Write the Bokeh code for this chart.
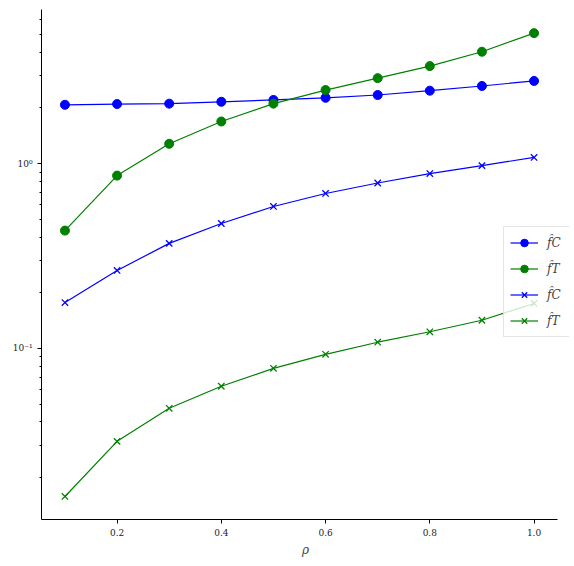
from bokeh.plotting import figure
from bokeh.models import Range1d, FixedTicker, Legend, LegendItem
from bokeh.embed import file_html
from bokeh.resources import INLINE

rho = [0.1, 0.2, 0.3, 0.4, 0.5, 0.6, 0.7, 0.8, 0.9, 1.0]
fC_circle = [2.08, 2.10, 2.11, 2.16, 2.21, 2.27, 2.35, 2.48, 2.63, 2.80]
fT_circle = [0.434, 0.861, 1.28, 1.69, 2.11, 2.50, 2.90, 3.37, 4.03, 5.08]
fC_cross = [0.177, 0.264, 0.370, 0.474, 0.586, 0.689, 0.785, 0.883, 0.975, 1.08]
fT_cross = [0.0158, 0.0314, 0.0474, 0.0624, 0.0780, 0.0929, 0.108, 0.123, 0.142, 0.175]
legend_labels = ["f\u0302C", "f\u0302T", "f\u0302C", "f\u0302T"]

xtick_values = [0.2, 0.4, 0.6, 0.8, 1.0]
xtick_labels = ["0.2", "0.4", "0.6", "0.8", "1.0"]
ytick_values = [0.1, 1.0]
ytick_labels = ["10\u207b\u00b9", "10\u2070"]
yminor = [0.02, 0.03, 0.04, 0.05, 0.06, 0.07, 0.08, 0.09,
          0.2, 0.3, 0.4, 0.5, 0.6, 0.7, 0.8, 0.9, 2, 3, 4, 5, 6]

BLUE = "#0000ff"
GREEN = "#008000"
FONT = "DejaVu Serif"

X0, X1 = 0.055, 1.045
XPAD = 0.023  # room to the right of the axis for the overhanging legend

p = figure(width=574, height=566, y_axis_type="log",
           x_range=Range1d(X0, X1 + XPAD), y_range=Range1d(0.01186, 6.82),
           output_backend="svg", toolbar_location=None,
           min_border_left=41, min_border_right=5, min_border_top=9,
           min_border_bottom=47)
p.outline_line_color = None
p.grid.visible = False
p.background_fill_color = "white"
p.border_fill_color = "white"

series = [
    (fC_circle, BLUE, "circle"),
    (fT_circle, GREEN, "circle"),
    (fC_cross, BLUE, "x"),
    (fT_cross, GREEN, "x"),
]
items = []
for (vals, col, marker), lab in zip(series, legend_labels):
    l = p.line(rho, vals, line_color=col, line_width=1.2)
    if marker == "circle":
        s = p.scatter(rho, vals, marker="circle", size=9, fill_color=col,
                      line_color=col)
    else:
        s = p.scatter(rho, vals, marker="x", size=9, line_color=col,
                      line_width=1.3)
    items.append(LegendItem(label=lab, renderers=[l, s]))

legend = Legend(items=items, location=(462, 182))
legend.label_text_font = FONT
legend.label_text_font_style = "italic"
legend.label_text_font_size = "12px"
legend.glyph_width = 28
legend.glyph_height = 19
legend.label_height = 19
legend.label_width = 16
legend.spacing = 7
legend.padding = 6
legend.margin = 0
legend.label_standoff = 9
legend.border_line_color = "#cccccc"
legend.background_fill_alpha = 0.8
p.add_layout(legend, "center")

for ax in (p.xaxis[0], p.yaxis[0]):
    ax.axis_line_color = "black"
    ax.axis_line_width = 1
    ax.major_tick_in = 0
    ax.major_tick_out = 4
    ax.minor_tick_in = 0
    ax.minor_tick_out = 2
    ax.major_label_text_font = FONT
    ax.major_label_text_font_size = "9px"
    ax.major_label_text_color = "#222222"

p.xaxis.bounds = (X0, X1)
p.xaxis.ticker = FixedTicker(ticks=xtick_values)
p.xaxis.major_label_overrides = dict(zip(xtick_values, xtick_labels))
p.xaxis.axis_label = "\u03c1"
p.xaxis.axis_label_text_font = FONT
p.xaxis.axis_label_text_font_style = "italic"
p.xaxis.axis_label_text_font_size = "12px"
p.xaxis.axis_label_standoff = 4

p.yaxis.ticker = FixedTicker(ticks=ytick_values, minor_ticks=yminor)
p.yaxis.major_label_overrides = dict(zip(ytick_values, ytick_labels))

open("out.html", "w").write(file_html(p, INLINE))
